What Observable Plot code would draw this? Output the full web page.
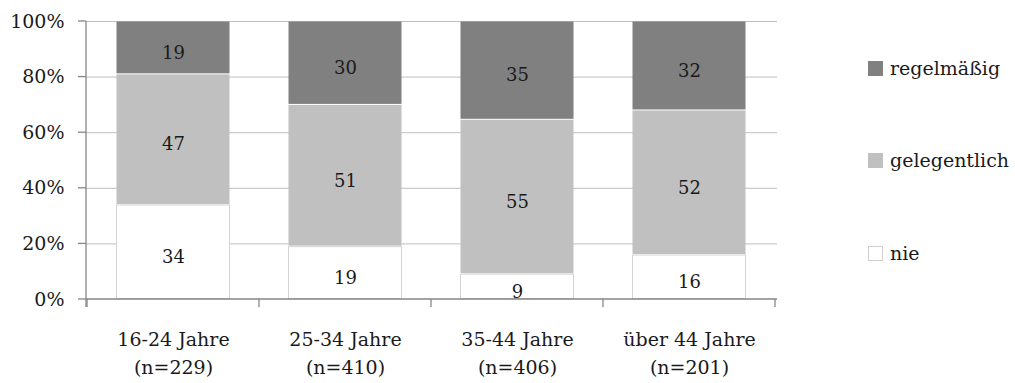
<!DOCTYPE html>
<html>
<head>
<meta charset="utf-8">
<script src="https://cdn.jsdelivr.net/npm/d3@7"></script>
<script src="https://cdn.jsdelivr.net/npm/@observablehq/plot@0.6"></script>
<style>
  html, body { margin: 0; padding: 0; background: #fff; }
  #wrap { position: relative; width: 1015px; height: 383px; font-family: "DejaVu Serif", serif; color: #1a1a1a; }
  #wrap svg { position: absolute; left: 0; top: 0; }
  .lg { position: absolute; left: 868px; font-size: 19px; line-height: 19px; display: flex; align-items: center; white-space: nowrap; }
  .lg .sw { width: 15px; height: 15px; box-sizing: border-box; margin-right: 7px; }
</style>
</head>
<body>
<div id="wrap"></div>
<script>
// ---- data ----
const ageGroups = ["16-24 Jahre", "25-34 Jahre", "35-44 Jahre", "über 44 Jahre"];
const sampleSizes = [229, 410, 406, 201];
const seriesNames = ["nie", "gelegentlich", "regelmäßig"]; // bottom -> top
const nie = [34, 19, 9, 16];
const gelegentlich = [47, 51, 55, 52];
const regelmaessig = [19, 30, 35, 32];
const seriesColors = ["#ffffff", "#c0c0c0", "#808080"];
const yTicks = [0, 0.2, 0.4, 0.6, 0.8, 1];

const seriesValues = [nie, gelegentlich, regelmaessig];
const rows = [];
seriesNames.forEach((s, si) => {
  ageGroups.forEach((g, gi) => rows.push({group: g, series: s, value: seriesValues[si][gi]}));
});
const tickLabel = g => `${g}\n(n=${sampleSizes[ageGroups.indexOf(g)]})`;

// custom axis lines & boundary ticks, positioned from Plot's scales
function axisLines(index, scales, values, dims) {
  const {x, y} = scales;
  const g = d3.create("svg:g").attr("stroke", "#868686").attr("fill", "none").attr("stroke-width", 1.3);
  const x0 = dims.marginLeft, x1 = dims.width - dims.marginRight;
  const yb = y(0), yt = y(1);
  g.append("line").attr("x1", x0).attr("x2", x0).attr("y1", yt).attr("y2", yb + 8);
  for (const t of yTicks) g.append("line").attr("x1", x0 - 8).attr("x2", x0).attr("y1", y(t)).attr("y2", y(t));
  g.append("line").attr("x1", x0).attr("x2", x1).attr("y1", yb).attr("y2", yb);
  const step = x.step(), half = (step - x.bandwidth()) / 2;
  const bounds = x.domain().map(c => x(c) - half);
  bounds.push(bounds[bounds.length - 1] + step);
  for (const b of bounds) g.append("line").attr("x1", b).attr("x2", b).attr("y1", yb).attr("y2", yb + 8);
  return g.node();
}

const stackOpts = {x: "group", y: "value", order: seriesNames, offset: "normalize"};

const chart = Plot.plot({
  width: 1015,
  height: 383,
  marginLeft: 86,
  marginRight: 238,
  marginTop: 21,
  marginBottom: 84,
  style: {fontFamily: "DejaVu Serif, serif", fontSize: "19px", color: "#1a1a1a", background: "transparent"},
  x: {domain: ageGroups, paddingInner: 0.335, paddingOuter: 0.1675, axis: null},
  y: {domain: [0, 1], axis: null},
  color: {domain: seriesNames, range: seriesColors},
  marks: [
    Plot.ruleY(yTicks.filter(t => t > 0), {stroke: "#bfbfbf", strokeWidth: 1}),
    Plot.barY(rows, Plot.stackY({...stackOpts, fill: "series", stroke: "#d4d4d4",
      strokeOpacity: d => d.series === "nie" ? 1 : 0, inset: 0.5})),
    Plot.text(rows, Plot.stackY({...stackOpts, z: "series", text: "value", fill: "#1a1a1a", fontSize: 18, dy: 5})),
    axisLines,
    Plot.axisY(yTicks, {tickSize: 0, tickPadding: 22, tickFormat: d3.format(".0%"), fontSize: 19, fill: "#1a1a1a", label: null}),
    Plot.axisX({tickSize: 0, tickPadding: 27, tickFormat: tickLabel, fontSize: 19, lineHeight: 1.45, fill: "#1a1a1a", label: null})
  ]
});

const wrap = document.getElementById("wrap");
wrap.appendChild(chart);

// legend (top -> bottom)
const legendTops = {"regelmäßig": 61, "gelegentlich": 153, "nie": 246};
[...seriesNames].reverse().forEach(s => {
  const i = seriesNames.indexOf(s);
  const d = document.createElement("div");
  d.className = "lg";
  d.style.top = (legendTops[s] - 2) + "px";
  const sw = document.createElement("span");
  sw.className = "sw";
  sw.style.background = seriesColors[i];
  if (s === "nie") sw.style.border = "1px solid #cfcfcf";
  d.appendChild(sw);
  d.appendChild(document.createTextNode(s));
  wrap.appendChild(d);
});
</script>
</body>
</html>
